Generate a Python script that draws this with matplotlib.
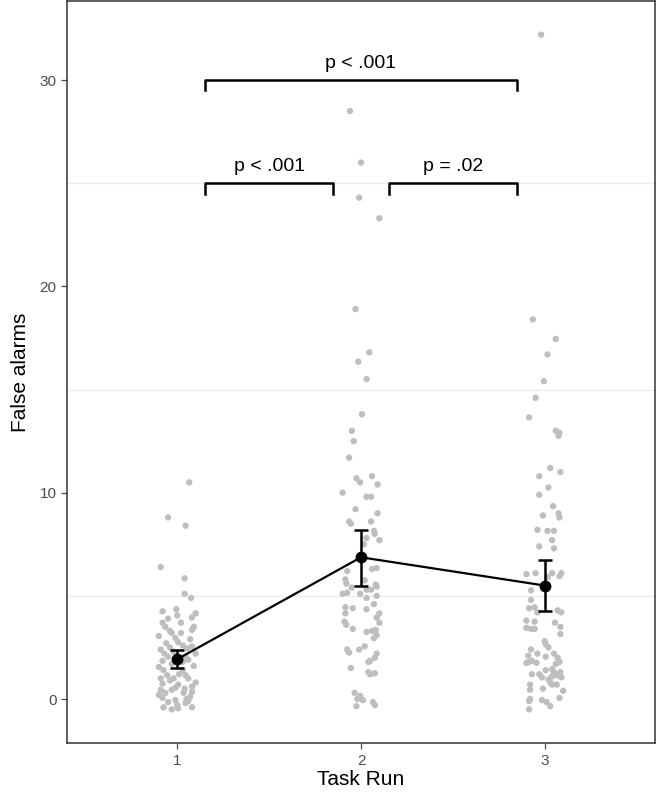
import matplotlib
matplotlib.use("Agg")
import matplotlib.pyplot as plt

plt.rcParams['font.family'] = ['Liberation Sans', 'DejaVu Sans']

# Jittered raw points per task run: (x offset from group centre, false alarms)
run1_points = [
    (0.065, 10.5), (-0.05, 8.8), (0.045, 8.4), (-0.09, 6.4), (0.04, 5.85), (0.04, 5.1), (0.075, 4.9),
    (-0.08, 4.25), (-0.005, 4.35), (0.0, 4.05), (0.1, 4.15), (0.08, 3.95), (-0.08, 3.7), (-0.065, 3.5),
    (-0.04, 3.3), (-0.03, 3.2), (0.02, 3.2), (0.08, 3.35), (0.09, 3.5), (-0.01, 2.95), (0.005, 2.75),
    (0.03, 2.6), (-0.09, 2.4), (-0.02, 2.3), (0.055, 2.45), (0.08, 2.55), (-0.05, 2.05), (0.045, 2.05),
    (-0.1, 1.55), (-0.075, 1.4), (-0.055, 1.15), (0.03, 1.4), (0.045, 1.15), (0.06, 1.0), (-0.02, 1.0),
    (-0.08, 0.75), (0.005, 0.7), (0.08, 0.6), (-0.09, 0.45), (-0.065, 0.3), (-0.03, 0.45), (0.035, 0.3),
    (0.07, 0.1), (-0.08, 0.05), (-0.05, -0.15), (-0.01, -0.05), (0.045, -0.2), (0.08, -0.4),
    (-0.075, -0.4), (0.005, -0.45), (-0.03, -0.5), (-0.06, 2.7), (0.06, 1.9), (-0.03, 1.7),
    (0.01, 1.2), (-0.09, 1.0), (0.09, 1.6), (-0.04, 0.9), (0.04, 0.5), (-0.07, 2.2), (0.07, 2.9),
    (0.02, 3.7), (0.05, 0.0), (-0.1, 0.2), (0.1, 0.8), (-0.05, 3.9), (0.03, 1.8), (-0.08, 1.85),
    (0.08, 0.35), (-0.01, 0.55), (0.0, -0.3), (0.06, -0.1), (-0.04, 2.5), (0.1, 2.2), (-0.1, 3.05),
]
run2_points = [
    (-0.06, 28.5), (0.0, 26.0), (-0.01, 24.3), (0.1, 23.3), (-0.03, 18.9), (0.045, 16.8),
    (-0.015, 16.35), (0.03, 15.5), (0.005, 13.8), (-0.05, 13.0), (-0.04, 12.5), (-0.065, 11.7),
    (-0.025, 10.7), (-0.005, 10.5), (0.06, 10.8), (0.09, 10.4), (-0.1, 10.0), (0.03, 9.8),
    (0.055, 9.8), (-0.03, 9.2), (0.09, 9.0), (-0.065, 8.6), (-0.055, 8.5), (0.055, 8.6),
    (0.07, 8.15), (0.075, 8.0), (0.03, 7.8), (0.1, 7.7), (0.015, 7.5), (-0.075, 6.2), (0.06, 6.3),
    (0.085, 6.35), (-0.085, 5.8), (-0.08, 5.6), (-0.05, 5.4), (0.02, 5.75), (0.03, 5.3),
    (0.055, 5.3), (0.08, 5.55), (0.085, 5.45), (-0.1, 5.1), (-0.075, 5.15), (-0.005, 5.1),
    (0.03, 4.9), (0.085, 5.0), (-0.085, 4.45), (-0.045, 4.4), (0.03, 4.35), (0.07, 4.6),
    (-0.085, 4.15), (0.1, 4.15), (0.085, 3.95), (-0.09, 3.75), (-0.08, 3.6), (-0.045, 3.4),
    (0.1, 3.7), (0.03, 3.25), (0.06, 3.3), (0.08, 3.35), (0.085, 3.1), (0.07, 2.95),
    (-0.075, 2.4), (-0.065, 2.25), (-0.01, 2.4), (0.02, 2.55), (0.085, 2.2), (0.075, 2.0),
    (0.05, 1.85), (0.04, 1.8), (-0.055, 1.5), (0.04, 1.3), (0.05, 1.2), (0.075, 1.25),
    (-0.035, 0.3), (-0.005, 0.15), (0.01, -0.05), (-0.02, 0.0), (-0.025, -0.35), (0.065, -0.15),
    (0.075, -0.3),
]
run3_points = [
    (-0.02, 32.2), (-0.065, 18.4), (0.06, 17.45), (0.015, 16.7), (-0.005, 15.4), (-0.05, 14.6),
    (-0.085, 13.65), (0.06, 13.0), (0.08, 12.9), (0.075, 12.75), (0.03, 11.2), (0.085, 11.0),
    (-0.03, 10.8), (0.02, 10.25), (-0.03, 9.9), (0.045, 9.35), (-0.01, 8.9), (0.075, 9.0),
    (0.08, 8.8), (-0.04, 8.2), (0.015, 8.15), (0.05, 8.15), (0.04, 7.7), (-0.03, 7.4), (0.05, 7.3),
    (-0.1, 6.05), (-0.05, 6.1), (0.04, 6.1), (0.09, 6.1), (0.08, 5.95), (0.015, 5.9), (-0.075, 5.27),
    (-0.075, 4.8), (-0.085, 4.4), (-0.055, 4.45), (0.07, 4.3), (0.09, 4.2), (-0.04, 4.2),
    (-0.1, 3.8), (-0.055, 3.75), (0.055, 3.7), (-0.1, 3.45), (-0.075, 3.4), (-0.055, 3.4),
    (0.085, 3.5), (0.085, 3.15), (0.0, 2.8), (0.005, 2.65), (0.02, 2.5), (-0.075, 2.4),
    (-0.09, 2.1), (-0.07, 1.85), (-0.04, 2.2), (0.005, 2.05), (0.05, 2.2), (0.07, 2.0), (0.08, 1.8),
    (-0.1, 1.75), (-0.085, 1.8), (-0.045, 1.75), (0.06, 1.7), (-0.07, 1.2), (-0.03, 1.2),
    (-0.015, 1.05), (0.005, 1.4), (0.04, 1.45), (0.05, 1.3), (0.04, 1.1), (0.07, 1.15), (0.02, 0.95),
    (0.03, 0.8), (0.085, 1.3), (0.09, 1.05), (-0.08, 0.7), (-0.08, 0.45), (-0.01, 0.5), (0.04, 0.7),
    (0.065, 0.7), (0.1, 0.4), (-0.08, 0.0), (-0.085, -0.1), (-0.015, -0.05), (0.01, -0.15),
    (0.03, -0.35), (0.08, 0.05), (-0.085, -0.5),
]

task_runs = [1, 2, 3]
means = [1.93, 6.87, 5.5]
ci_low = [1.5, 5.5, 4.25]
ci_high = [2.38, 8.2, 6.75]

# significance brackets: (x start, x end, height, label)
brackets = [(1.15, 2.85, 30, "p < .001"), (1.15, 1.85, 25, "p < .001"), (2.15, 2.85, 25, "p = .02")]

fig = plt.figure(figsize=(6.57, 7.94), dpi=100)
ax = fig.add_axes([0.102, 0.064, 0.895, 0.935])

# faint minor grid lines
for y in [5, 15, 25]:
    ax.axhline(y, color="#EBEBEB", linewidth=0.9, zorder=0)

for run, pts in zip(task_runs, [run1_points, run2_points, run3_points]):
    xs = [run + dx for dx, _ in pts]
    ys = [v for _, v in pts]
    ax.scatter(xs, ys, s=21, color="#BEBEBE", edgecolors="none", zorder=2)

ax.plot(task_runs, means, color="black", linewidth=1.6, zorder=3)
yerr = [[m - lo for m, lo in zip(means, ci_low)], [hi - m for m, hi in zip(means, ci_high)]]
ax.errorbar(task_runs, means, yerr=yerr, fmt="o", color="black", markersize=7.5,
            elinewidth=1.8, capsize=5, capthick=1.8, zorder=4)

for x0, x1, h, label in brackets:
    ax.plot([x0, x0, x1, x1], [h - 0.5, h, h, h - 0.5], color="black", linewidth=1.8, zorder=3)
    ax.text((x0 + x1) / 2, h + 0.4, label, ha="center", va="bottom", fontsize=14)

ax.set_xlim(0.4, 3.6)
ax.set_ylim(-2.14, 33.84)
ax.set_xticks(task_runs)
ax.set_yticks([0, 10, 20, 30])
ax.tick_params(colors="#4D4D4D", labelsize=11, length=4, width=0.9)
for s in ax.spines.values():
    s.set_color("#333333")
    s.set_linewidth(1.1)

ax.set_xlabel("Task Run", fontsize=15, labelpad=2)
ax.set_ylabel("False alarms", fontsize=15, labelpad=7)

plt.savefig("out.png", dpi=100)
